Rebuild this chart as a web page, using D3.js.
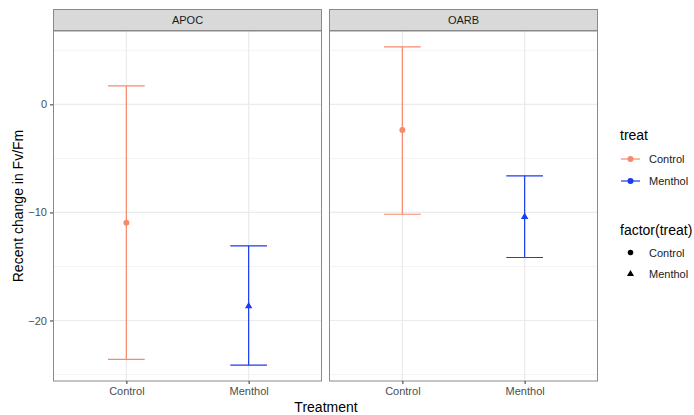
<!DOCTYPE html>
<html><head><meta charset="utf-8">
<script src="https://cdn.jsdelivr.net/npm/d3@7"></script>
<style>body{margin:0;background:#fff}text{font-family:"Liberation Sans",Arial,sans-serif}</style>
</head><body><svg id="c" width="694" height="415"></svg>
<script>
const sites = ["APOC", "OARB"];
const treatments = ["Control", "Menthol"];
const meanValues = [[-10.96, -18.68], [-2.38, -10.4]];
const lowerValues = [[-23.6, -24.14], [-10.17, -14.17]];
const upperValues = [[1.72, -13.09], [5.33, -6.61]];
const yTicks = [0, -10, -20];
const colors = {"Control": "#F58A6E", "Menthol": "#1A3BEF"};

const svg = d3.select("#c");
const panelTop = 31, panelBottom = 381, stripTop = 9;
const panels = [[53, 322], [329, 598]];
const y = d3.scaleLinear().domain([-25.6, 6.79]).range([panelBottom, panelTop]);

const sym = {"Control": d3.symbolCircle, "Menthol": d3.symbolTriangle};

sites.forEach((site, si) => {
  const [x0, x1] = panels[si];
  const x = d3.scalePoint().domain(treatments).range([x0, x1]).padding(0.6);
  const g = svg.append("g");
  // minor grid
  [5, -5, -15, -25].forEach(v => g.append("line").attr("x1", x0).attr("x2", x1).attr("y1", y(v)).attr("y2", y(v)).attr("stroke", "#F3F3F3").attr("stroke-width", 1));
  yTicks.forEach(v => g.append("line").attr("x1", x0).attr("x2", x1).attr("y1", y(v)).attr("y2", y(v)).attr("stroke", "#EBEBEB").attr("stroke-width", 1.2));
  treatments.forEach(t => g.append("line").attr("x1", x(t)).attr("x2", x(t)).attr("y1", panelTop).attr("y2", panelBottom).attr("stroke", "#EBEBEB").attr("stroke-width", 1.2));
  // error bars
  const hw = 0.15 * (x1 - x0) / 2.2;
  treatments.forEach((t, ti) => {
    const cx = x(t), c = colors[t];
    const lo = y(lowerValues[si][ti]), hi = y(upperValues[si][ti]);
    g.append("line").attr("x1", cx).attr("x2", cx).attr("y1", lo).attr("y2", hi).attr("stroke", c).attr("stroke-width", 1.2);
    [lo, hi].forEach(yy => g.append("line").attr("x1", cx - hw).attr("x2", cx + hw).attr("y1", yy).attr("y2", yy).attr("stroke", c).attr("stroke-width", 1.2));
    g.append("path").attr("d", d3.symbol().type(sym[t]).size(t === "Control" ? 28 : 24)())
      .attr("transform", `translate(${cx},${y(meanValues[si][ti])})`).attr("fill", c);
  });
  // border
  g.append("rect").attr("x", x0 + 0.5).attr("y", panelTop).attr("width", x1 - x0 - 1).attr("height", panelBottom - panelTop).attr("fill", "none").attr("stroke", "#8a8a8a").attr("stroke-width", 1);
  // strip
  g.append("rect").attr("x", x0 + 0.5).attr("y", stripTop + 0.5).attr("width", x1 - x0 - 1).attr("height", panelTop - stripTop - 1).attr("fill", "#D9D9D9").attr("stroke", "#8a8a8a");
  g.append("text").attr("x", (x0 + x1) / 2).attr("y", 24).attr("text-anchor", "middle").attr("font-size", 11).attr("fill", "#1a1a1a").text(site);
  // x axis
  const xa = svg.append("g").attr("transform", `translate(0,${panelBottom})`).call(d3.axisBottom(x).tickSize(3).tickPadding(3));
  xa.select(".domain").remove();
  xa.selectAll("line").attr("stroke", "#333");
  xa.selectAll("text").attr("font-size", 11).attr("fill", "#4d4d4d").attr("font-family", "Liberation Sans, Arial, sans-serif");
});
// y axis
const ya = svg.append("g").attr("transform", `translate(${panels[0][0]},0)`).call(d3.axisLeft(y).tickValues(yTicks).tickSize(3).tickPadding(3));
ya.select(".domain").remove();
ya.selectAll("line").attr("stroke", "#333");
ya.selectAll("text").attr("font-size", 11).attr("fill", "#4d4d4d").attr("font-family", "Liberation Sans, Arial, sans-serif");

svg.append("text").attr("x", 326).attr("y", 412).attr("text-anchor", "middle").attr("font-size", 14).attr("fill", "#000").text("Treatment");
svg.append("text").attr("transform", "translate(23,206) rotate(-90)").attr("text-anchor", "middle").attr("font-size", 14).attr("fill", "#000").text("Recent change in Fv/Fm");

// legends
const lg = svg.append("g");
lg.append("text").attr("x", 620).attr("y", 140).attr("font-size", 14).text("treat");
treatments.forEach((t, i) => {
  const yy = 159 + i * 22;
  lg.append("line").attr("x1", 621).attr("x2", 640).attr("y1", yy).attr("y2", yy).attr("stroke", colors[t]).attr("stroke-width", 1.2);
  lg.append("circle").attr("cx", 630.5).attr("cy", yy).attr("r", 3).attr("fill", colors[t]);
  lg.append("text").attr("x", 649).attr("y", yy + 4).attr("font-size", 11).attr("fill", "#1a1a1a").text(t);
});
lg.append("text").attr("x", 620).attr("y", 235).attr("font-size", 14).text("factor(treat)");
treatments.forEach((t, i) => {
  const yy = 252.5 + i * 21.5;
  lg.append("path").attr("d", d3.symbol().type(sym[t]).size(t === "Control" ? 24 : 22)()).attr("transform", `translate(630.5,${yy})`).attr("fill", "#000");
  lg.append("text").attr("x", 649).attr("y", yy + 4).attr("font-size", 11).attr("fill", "#1a1a1a").text(t);
});
</script></body></html>
